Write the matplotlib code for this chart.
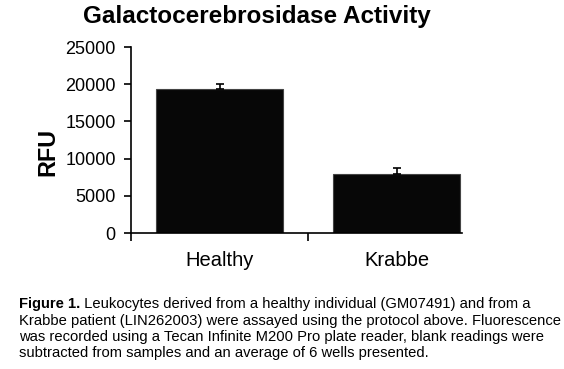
import matplotlib
matplotlib.use("Agg")
import matplotlib.pyplot as plt

categories = ["Healthy", "Krabbe"]
values = [19400, 7900]
errors = [650, 800]
yticks = [0, 5000, 10000, 15000, 20000, 25000]

plt.rcParams['font.family'] = ['Liberation Sans', 'DejaVu Sans']

fig = plt.figure(figsize=(5.64, 3.69), dpi=100)
ax = fig.add_axes([131/564, 1-233/369, (485-131)/564, (233-47)/369])

x = list(range(len(categories)))
ax.bar(x, values, width=0.723, color='#070707', edgecolor='#444444', linewidth=0.8, zorder=2)
ax.errorbar(x, values, yerr=[[0]*len(errors), errors], fmt='none', ecolor='black',
            elinewidth=1.2, capsize=3, capthick=1.2, zorder=3)

ax.set_xlim(-0.5, len(categories) - 0.5)
ax.set_ylim(0, 25000)
ax.set_yticks(yticks)
ax.set_yticklabels([str(t) for t in yticks], fontsize=13)
ax.set_xticks([-0.5, 0.5])
ax.set_xticklabels(["", ""])
ax.set_xticks(x, minor=True)
ax.set_xticklabels(categories, minor=True, fontsize=14.5)
ax.tick_params(axis='x', which='minor', length=0, pad=13)
ax.tick_params(axis='x', which='major', length=6, width=1.2, direction='out')
ax.tick_params(axis='y', length=5, width=1.2, direction='out', pad=6)

for s in ['top', 'right']:
    ax.spines[s].set_visible(False)
ax.spines['left'].set_linewidth(1.2)
ax.spines['bottom'].set_linewidth(1.2)
ax.spines['bottom'].set_bounds(-0.5, 1.37)

ax.set_ylabel("RFU", fontsize=16.8, fontweight='bold')
ax.yaxis.set_label_coords((48-131)/354, (233-152)/186)
ax.yaxis.label.set_va('center')

fig.text(257/564, 1-17/369, "Galactocerebrosidase Activity", ha='center', va='center',
         fontsize=17.5, fontweight='bold')

fs = 10.6
t1 = fig.text(19/564, 1-308/369, "Figure 1.", fontsize=fs, fontweight='bold', ha='left', va='baseline')
ax.annotate(" Leukocytes derived from a healthy individual (GM07491) and from a",
            xy=(1, 0), xycoords=t1, va='bottom', ha='left', fontsize=fs,
            annotation_clip=False)
lines = ["Krabbe patient (LIN262003) were assayed using the protocol above. Fluorescence",
         "was recorded using a Tecan Infinite M200 Pro plate reader, blank readings were",
         "subtracted from samples and an average of 6 wells presented."]
for i, ln in enumerate(lines):
    fig.text(19/564, 1-(308+16.5*(i+1))/369, ln, fontsize=fs, ha='left', va='baseline')

fig.savefig("out.png", dpi=100)
